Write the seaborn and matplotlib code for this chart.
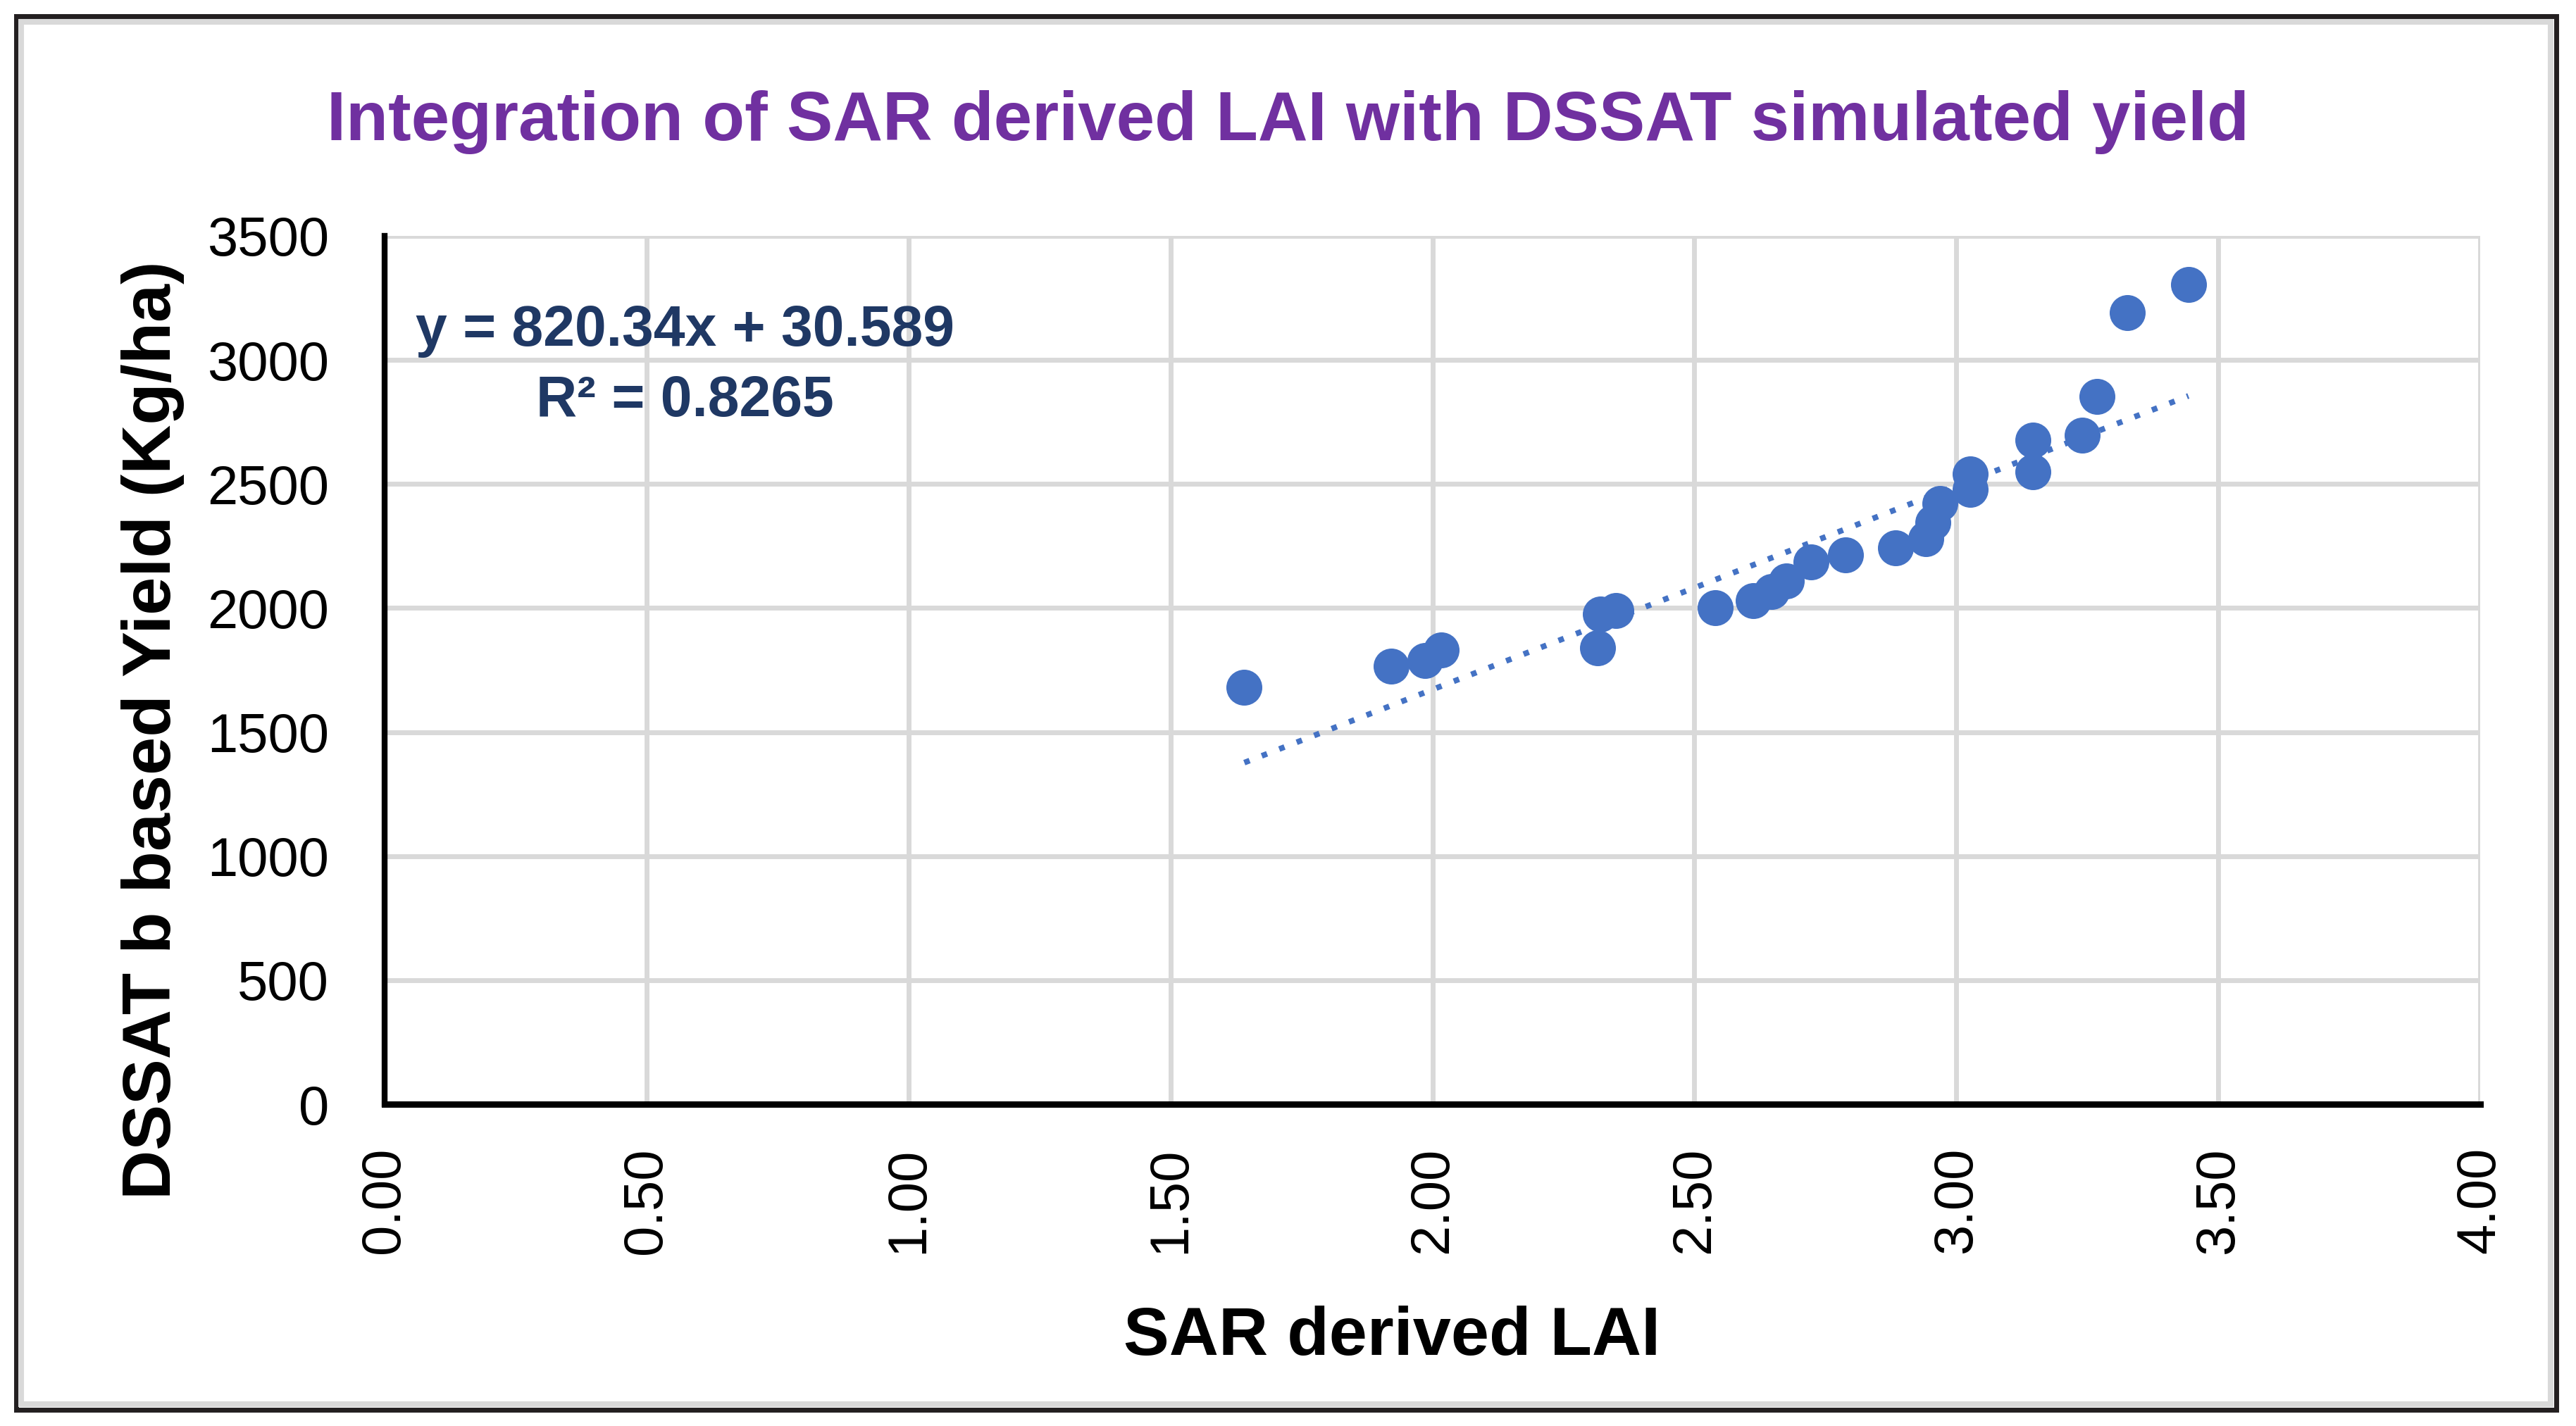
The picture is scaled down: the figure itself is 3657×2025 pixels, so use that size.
import numpy as np
import pandas as pd
import matplotlib
matplotlib.use("Agg")
import matplotlib.pyplot as plt
import seaborn as sns
from matplotlib.patches import Rectangle

# ---------------- data ----------------
lai = [1.641, 1.921, 1.986, 2.017, 2.315, 2.321, 2.350, 2.540, 2.612, 2.647,
       2.676, 2.723, 2.788, 2.884, 2.942, 2.955, 2.969, 3.027, 3.027, 3.146,
       3.146, 3.240, 3.269, 3.326, 3.443]
yield_kg = [1681, 1767, 1789, 1830, 1840, 1977, 1991, 2000, 2030, 2067,
            2110, 2185, 2213, 2243, 2279, 2345, 2420, 2541, 2479, 2678,
            2550, 2696, 2852, 3192, 3303]
slope = 820.34
intercept = 30.589
eq_text = "y = 820.34x + 30.589"
r2_text = "R\u00b2 = 0.8265"
x_ticks = [0.0, 0.5, 1.0, 1.5, 2.0, 2.5, 3.0, 3.5, 4.0]
y_ticks = [0, 500, 1000, 1500, 2000, 2500, 3000, 3500]
title = "Integration of SAR derived LAI with DSSAT simulated yield"
x_label = "SAR derived LAI"
y_label = "DSSAT b based Yield (Kg/ha)"

df = pd.DataFrame({"LAI": lai, "Yield": yield_kg})

# ---------------- style ----------------
sns.set_style("white")
plt.rcParams["font.family"] = ["Liberation Sans", "DejaVu Sans"]

W, H = 3657, 2025
fig = plt.figure(figsize=(W / 100, H / 100), dpi=100)
fig.patch.set_facecolor("white")

ax = fig.add_axes([546 / W, 1 - 1568 / H, (3521 - 546) / W, (1568 - 335) / H])

blue = "#4472C4"
sns.scatterplot(data=df, x="LAI", y="Yield", ax=ax, s=1350, color=blue,
                linewidth=0, zorder=3, legend=False)

# linear trendline (Excel-style) over data range
xl = np.array([min(lai), max(lai)])
yl = slope * xl + intercept
ax.plot(xl, yl, color=blue, lw=5.8, linestyle=(0, (1, 2.3)),
        dash_capstyle="butt", zorder=2)

ax.set_xlim(0, 4)
ax.set_ylim(0, 3500)
ax.set_xticks(x_ticks)
ax.set_yticks(y_ticks)
ax.set_xticklabels([f"{v:.2f}" for v in x_ticks])
ax.set_yticklabels([str(v) for v in y_ticks])
ax.tick_params(axis="x", labelsize=56, labelrotation=90, length=0, pad=44,
               colors="black")
ax.tick_params(axis="y", labelsize=56, length=0, pad=57, colors="black")
ax.grid(True, color="#D9D9D9", linewidth=5)
ax.set_axisbelow(True)
for s in ["top", "right"]:
    ax.spines[s].set_visible(False)
ax.spines["left"].set_color("black")
ax.spines["left"].set_linewidth(6)
ax.spines["bottom"].set_color("black")
ax.spines["bottom"].set_linewidth(6.5)
ax.spines["left"].set_zorder(4)
ax.spines["bottom"].set_zorder(4)
ax.set_xlabel("")
ax.set_ylabel("")

# equation text
navy = "#1F3864"
ax.text(0.573, 3058, eq_text, ha="center", va="baseline", fontsize=58,
        fontweight="bold", color=navy, zorder=5)
ax.text(0.573, 2772, r2_text, ha="center", va="baseline", fontsize=58,
        fontweight="bold", color=navy, zorder=5)

# title and axis labels
fig.text(1828 / W, 1 - 199 / H, title, ha="center", va="baseline", fontsize=70.5,
         fontweight="bold", color="#7030A0")
fig.text(1976 / W, 1 - 1924 / H, x_label, ha="center", va="baseline",
         fontsize=70, fontweight="bold", color="black")
fig.text(242 / W, 1 - 1037 / H, y_label, ha="center", va="baseline",
         rotation=90, rotation_mode="anchor", fontsize=70,
         fontweight="bold", color="black")

# outer frame (black border with grey inner line)
def px_rect(x0, y0, x1, y1, color, lw):
    fig.patches.append(Rectangle((x0 / W, 1 - y1 / H), (x1 - x0) / W,
                                 (y1 - y0) / H, transform=fig.transFigure,
                                 fill=False, edgecolor=color, linewidth=lw,
                                 zorder=10))

px_rect(22.5, 23, 3628.5, 2001.5, "#231F20", 5)
px_rect(30, 30.5, 3621, 1994, "#D9D9D9", 5.8)

fig.savefig("out.png", dpi=100, facecolor="white")
